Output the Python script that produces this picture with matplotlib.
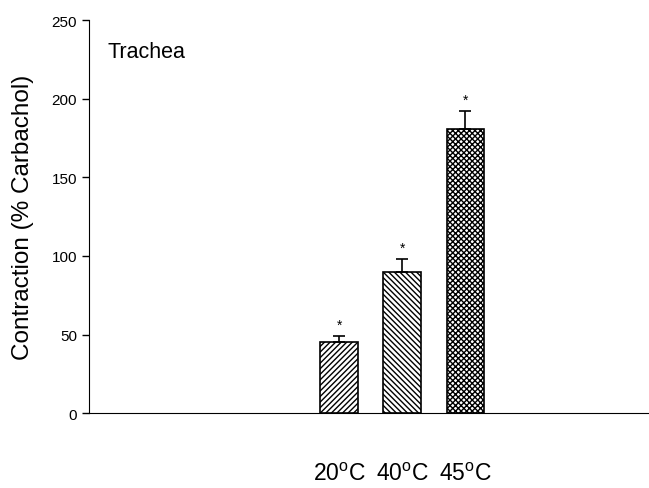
import matplotlib
matplotlib.use('Agg')
import matplotlib.pyplot as plt

plt.rcParams['font.family'] = ['Liberation Sans', 'DejaVu Sans']
plt.rcParams['mathtext.fontset'] = 'custom'
plt.rcParams['mathtext.rm'] = 'Liberation Sans'
plt.rcParams['hatch.linewidth'] = 1.0

temps = ['20', '40', '45']
contraction = [45, 90, 181]
sem = [4, 8, 11]
hatches = ['//////', '\\\\\\\\\\\\', 'xxxxxx']
positions = [4, 5, 6]

fig = plt.figure(figsize=(6.49, 4.89), dpi=100)
ax = fig.add_axes([0.137, 0.153, 0.862, 0.804])

for pos, val, err, h in zip(positions, contraction, sem, hatches):
    ax.bar(pos, val, width=0.6, color='white', edgecolor='black', hatch=h, linewidth=1.2, zorder=2)
    ax.errorbar(pos, val, yerr=[[0], [err]], fmt='none', ecolor='black', elinewidth=1.2, capsize=4.5, capthick=1.2, zorder=3)
    ax.text(pos, val + err + 3, '*', ha='center', va='bottom', fontsize=10)

ax.set_xlim(0.03, 8.9)
ax.set_ylim(0, 250)
ax.set_yticks([0, 50, 100, 150, 200, 250])
ax.tick_params(axis='y', direction='out', length=5, labelsize=11, width=1)
ax.set_xticks(positions)
ax.set_xticklabels([t + r'$^\mathregular{o}$C' for t in temps], fontsize=16.5)
ax.tick_params(axis='x', length=0, pad=35)
ax.spines['top'].set_visible(False)
ax.spines['right'].set_visible(False)
ax.set_ylabel('Contraction (% Carbachol)', fontsize=17.5, labelpad=13)
ax.text(0.034, 0.905, 'Trachea', transform=ax.transAxes, fontsize=15.5)

fig.savefig('out.png', dpi=100)
